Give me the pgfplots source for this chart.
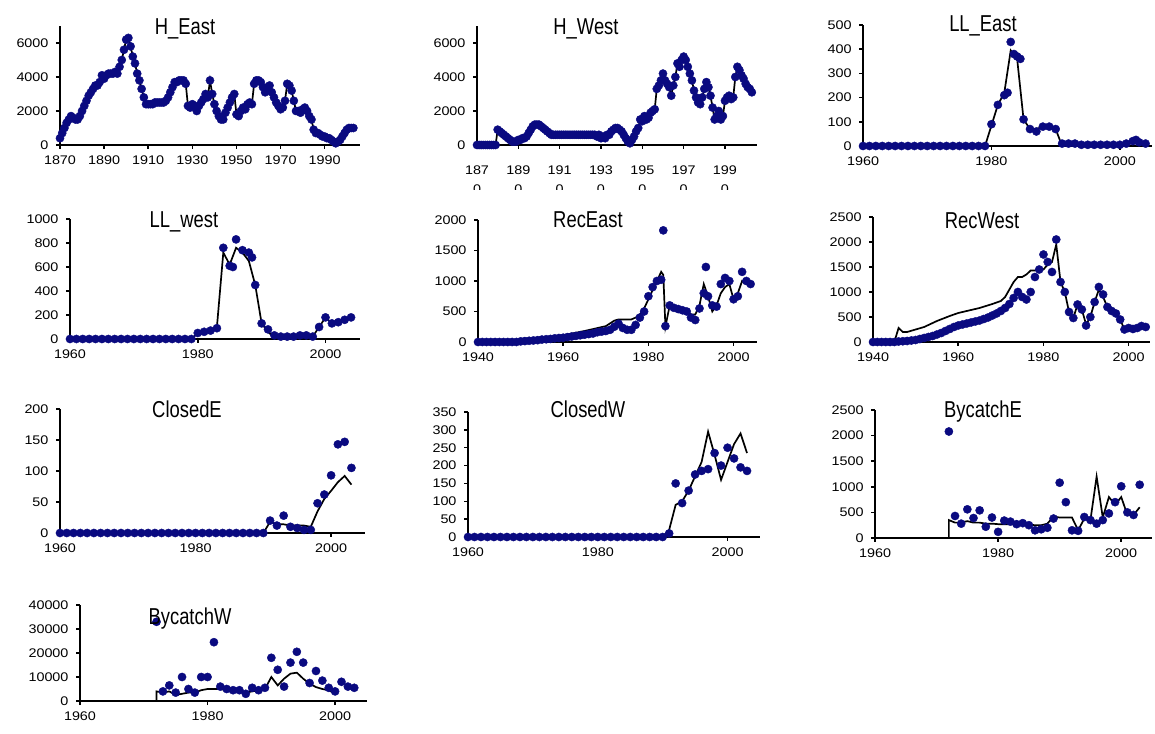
\documentclass[border=0pt]{standalone}
\usepackage{pgfplots}
\pgfplotsset{compat=1.18}
\usepackage{pgfplotstable}
\usepackage{fontspec}
\setmainfont{Liberation Sans}
\definecolor{dotblue}{RGB}{10,10,128}
\newcommand{\tickfont}{\fontsize{12.5}{14}\selectfont}
\newcommand{\ttl}[1]{\fontsize{23}{25}\selectfont\scalebox{0.8}[1]{#1}}
\pgfplotsset{
  panel/.style={
    scale only axis, anchor=south west,
    axis lines=left,
    axis line style={-, line width=2pt, black},
    every tick/.style={black, line width=1.5pt},
    major tick length=4pt, tick align=outside,
    ymin=0, clip=false,
    tick label style={font=\tickfont, xscale=1.15},
    xticklabel style={yshift=-3pt},
    yticklabel style={xshift=-3pt},
    scaled ticks=false,
    /pgf/number format/1000 sep={},
    /pgf/number format/assume math mode=true,
  },
  dots/.style={only marks, mark=*, mark size=4.1pt, color=dotblue},
  fit/.style={black, line width=1.7pt, no markers},
}
\pgfplotstableread{
x y
1870 400
1871 700
1872 1000
1873 1300
1874 1500
1875 1700
1876 1600
1877 1500
1878 1500
1879 1700
1880 2000
1881 2300
1882 2600
1883 2900
1884 3100
1885 3300
1886 3500
1887 3500
1888 3700
1889 4100
1890 3900
1891 4100
1892 4200
1893 4200
1894 4200
1895 4300
1896 4200
1897 4600
1898 5000
1899 5600
1900 6200
1901 6300
1902 5800
1903 5200
1904 4800
1905 4200
1906 3800
1907 3300
1908 2800
1909 2400
1910 2400
1911 2400
1912 2400
1913 2500
1914 2500
1915 2500
1916 2500
1917 2500
1918 2600
1919 2800
1920 3100
1921 3400
1922 3700
1923 3700
1924 3800
1925 3800
1926 3800
1927 3600
1928 2300
1929 2200
1930 2400
1931 2300
1932 2000
1933 2300
1934 2500
1935 2700
1936 3000
1937 2800
1938 3800
1939 3000
1940 2400
1941 2000
1942 1700
1943 1500
1944 1500
1945 1900
1946 2200
1947 2500
1948 2800
1949 3000
1950 1800
1951 1700
1952 2000
1953 2200
1954 2100
1955 2400
1956 2500
1957 2400
1958 3600
1959 3800
1960 3800
1961 3700
1962 3400
1963 3100
1964 3400
1965 3500
1966 3100
1967 2800
1968 2500
1969 2300
1970 2100
1971 2200
1972 2600
1973 3600
1974 3500
1975 3200
1976 2600
1977 2000
1978 2000
1979 1900
1980 2100
1981 2200
1982 2000
1983 1700
1984 1500
1985 900
1986 700
1987 700
1988 600
1989 500
1990 500
1991 400
1992 400
1993 300
1994 200
1995 100
1996 200
1997 300
1998 500
1999 700
2000 900
2001 1000
2002 1000
2003 1000
}\hEast
\pgfplotstableread{
x y
1870 0
1871 0
1872 0
1873 0
1874 0
1875 0
1876 0
1877 0
1878 0
1879 0
1880 900
1881 800
1882 700
1883 600
1884 500
1885 400
1886 300
1887 200
1888 200
1889 200
1890 300
1891 300
1892 400
1893 400
1894 500
1895 700
1896 900
1897 1100
1898 1200
1899 1200
1900 1200
1901 1100
1902 1000
1903 900
1904 800
1905 700
1906 600
1907 600
1908 600
1909 600
1910 600
1911 600
1912 600
1913 600
1914 600
1915 600
1916 600
1917 600
1918 600
1919 600
1920 600
1921 600
1922 600
1923 600
1924 600
1925 600
1926 600
1927 600
1928 500
1929 600
1930 400
1931 500
1932 400
1933 600
1934 600
1935 800
1936 900
1937 1000
1938 1000
1939 900
1940 800
1941 600
1942 400
1943 200
1944 100
1945 300
1946 500
1947 800
1948 1000
1949 1500
1950 1400
1951 1700
1952 1500
1953 1600
1954 1900
1955 2000
1956 2100
1957 3300
1958 3500
1959 3800
1960 4200
1961 3800
1962 3600
1963 3400
1964 2900
1965 3500
1966 4000
1967 4800
1968 4600
1969 5000
1970 5200
1971 5000
1972 4600
1973 4200
1974 3800
1975 3200
1976 2800
1977 2500
1978 2400
1979 2800
1980 3300
1981 3700
1982 3400
1983 2900
1984 2200
1985 1500
1986 1700
1987 2000
1988 1500
1989 1700
1990 2600
1991 2800
1992 2900
1993 2700
1994 2800
1995 4000
1996 4600
1997 4400
1998 4100
1999 3900
2000 3600
2001 3400
2002 3300
2003 3100
}\hWest
\begin{document}
\begin{tikzpicture}[x=1pt,y=1pt]
\useasboundingbox (0pt,0pt) rectangle (1155pt,733pt);
% ---------- H_East
\begin{axis}[panel, at={(60pt,588pt)}, width=300pt, height=119pt,
  xmin=1870, xmax=2006, ymax=7000,
  xtick={1870,1890,...,1990}, ytick={0,2000,4000,6000}]
\addplot[fit] table {\hEast};
\addplot[dots] table {\hEast};
\end{axis}
\node[anchor=base] at (185pt,698pt) {\ttl{H\_East}};
% ---------- H_West
\begin{axis}[panel, at={(477pt,588pt)}, width=280pt, height=119pt,
  xmin=1870, xmax=2005.5, ymax=7000,
  xtick={1870,1890,...,1990}, ytick={0,2000,4000,6000},
  xticklabels={187\\0,189\\0,191\\0,193\\0,195\\0,197\\0,199\\0},
  xticklabel style={align=center, font=\fontsize{12.5}{19}\selectfont, yshift=-10pt}]
\addplot[fit] table {\hWest};
\addplot[dots] table {\hWest};
\end{axis}
\fill[white] (465pt,525pt) rectangle (775pt,543pt);
\node[anchor=base] at (586pt,698pt) {\ttl{H\_West}};
% ---------- LL_East
\begin{axis}[panel, at={(863pt,587pt)}, width=289pt, height=121pt,
  xmin=1960, xmax=2005, ymax=500,
  xtick={1960,1980,2000}, ytick={0,100,...,500}]
\addplot[fit] coordinates {(1960,0)(1979,0)(1980,85)(1981,170)(1982,220)(1983,395)(1984,360)(1985,110)(1986,70)(1987,70)(1988,80)(1989,80)(1990,70)(1991,0)(2004,0)};
\addplot[dots] coordinates {(1960,0)(1961,0)(1962,0)(1963,0)(1964,0)(1965,0)(1966,0)(1967,0)(1968,0)(1969,0)(1970,0)(1971,0)(1972,0)(1973,0)(1974,0)(1975,0)(1976,0)(1977,0)(1978,0)(1979,0)
(1980,90)(1981,170)(1982,210)(1982.5,220)(1983,430)(1983.5,380)(1984,370)(1984.5,360)(1985,110)(1986,70)(1987,60)(1988,80)(1989,80)(1990,70)(1991,10)(1992,10)(1993,10)(1994,5)(1995,5)(1996,5)(1997,5)(1998,5)(1999,5)(2000,5)(2001,10)(2002,20)(2002.5,25)(2003,15)(2004,10)};
\end{axis}
\node[anchor=base] at (983pt,701pt) {\ttl{LL\_East}};
% ---------- LL_west
\begin{axis}[panel, at={(70pt,394pt)}, width=290pt, height=120pt,
  xmin=1960, xmax=2005.4, ymax=1000,
  xtick={1960,1980,2000}, ytick={0,200,...,1000}]
\addplot[fit] coordinates {(1960,0)(1979,0)(1980,50)(1981,60)(1982,70)(1983,100)(1984,720)(1985,620)(1986,760)(1987,720)(1988,650)(1989,450)(1990,130)(1991,60)(1992,10)(1993,15)(1998,20)(1999,100)(2000,180)(2001,130)(2002,140)(2003,160)(2004,180)};
\addplot[dots] coordinates {(1960,0)(1961,0)(1962,0)(1963,0)(1964,0)(1965,0)(1966,0)(1967,0)(1968,0)(1969,0)(1970,0)(1971,0)(1972,0)(1973,0)(1974,0)(1975,0)(1976,0)(1977,0)(1978,0)(1979,0)
(1980,50)(1981,60)(1982,70)(1983,90)(1984,760)(1985,610)(1985.5,600)(1986,830)(1987,740)(1988,720)(1988.5,680)(1989,450)(1990,130)(1991,80)(1992,30)(1993,20)(1994,20)(1995,20)(1996,30)(1997,30)(1998,20)(1999,100)(2000,180)(2001,130)(2002,140)(2003,160)(2004,180)};
\end{axis}
\node[anchor=base] at (184pt,505pt) {\ttl{LL\_west}};
% ---------- RecEast
\begin{axis}[panel, at={(478pt,391pt)}, width=279pt, height=122pt,
  xmin=1940, xmax=2005.5, ymax=2000,
  xtick={1940,1960,1980,2000}, ytick={0,500,...,2000}]
\addplot[fit] coordinates {(1940,0)(1950,10)(1955,60)(1960,110)(1965,180)(1970,260)(1972,350)(1973,370)(1976,370)(1977,400)(1978,450)(1979,550)(1980,700)(1981,850)(1982,1000)(1983,1150)(1983.5,1100)(1984,250)(1985,600)(1986,560)(1987,540)(1988,520)(1989,500)(1990,450)(1991,450)(1992,600)(1993,950)(1994,750)(1995,500)(1996,600)(1997,800)(1998,900)(1999,950)(2000,700)(2001,800)(2002,1000)(2003,950)(2004,1000)};
\addplot[dots] coordinates {(1940,0)(1941,0)(1942,0)(1943,0)(1944,0)(1945,0)(1946,0)(1947,0)(1948,0)(1949,0)(1950,10)(1951,15)(1952,20)(1953,25)(1954,30)(1955,40)(1956,45)(1957,50)(1958,60)(1959,65)(1960,70)(1961,80)(1962,90)(1963,100)(1964,110)(1965,120)(1966,130)(1967,140)(1968,160)(1969,170)(1970,180)(1971,200)(1972,250)(1973,300)(1974,230)(1975,200)(1976,200)(1977,280)(1978,400)(1979,500)(1980,750)(1981,900)(1982,1000)(1983,1020)(1983.5,1830)(1984,260)(1985,600)(1986,560)(1987,540)(1988,520)(1989,500)(1990,400)(1991,360)(1992,550)(1993,800)(1993.5,1230)(1994,750)(1995,600)(1996,580)(1997,950)(1998,1050)(1999,1000)(2000,700)(2001,750)(2002,1150)(2003,1000)(2004,950)};
\end{axis}
\node[anchor=base] at (588pt,505pt) {\ttl{RecEast}};
% ---------- RecWest
\begin{axis}[panel, at={(873pt,391pt)}, width=277pt, height=125pt,
  xmin=1940, xmax=2005, ymax=2500,
  xtick={1940,1960,1980,2000}, ytick={0,500,...,2500}]
\addplot[fit] coordinates {(1940,0)(1945,0)(1946,280)(1947,200)(1948,200)(1950,250)(1952,300)(1955,420)(1958,520)(1960,580)(1962,620)(1965,680)(1968,760)(1970,820)(1971,900)(1972,1050)(1973,1200)(1974,1300)(1975,1300)(1976,1350)(1977,1430)(1978,1430)(1979,1450)(1980,1450)(1981,1550)(1982,1600)(1983,1950)(1984,1200)(1985,1000)(1986,600)(1987,480)(1988,750)(1989,650)(1990,350)(1991,500)(1992,800)(1993,1050)(1994,900)(1995,700)(1996,620)(1997,570)(1998,450)(1999,250)(2000,280)(2001,260)(2002,280)(2003,320)(2004,300)};
\addplot[dots] coordinates {(1940,0)(1941,0)(1942,0)(1943,0)(1944,0)(1945,0)(1946,10)(1947,15)(1948,20)(1949,30)(1950,40)(1951,60)(1952,80)(1953,100)(1954,120)(1955,150)(1956,180)(1957,220)(1958,260)(1959,300)(1960,330)(1961,350)(1962,370)(1963,390)(1964,410)(1965,430)(1966,460)(1967,490)(1968,530)(1969,570)(1970,620)(1971,680)(1972,760)(1973,880)(1974,1000)(1975,900)(1976,850)(1977,1000)(1978,1300)(1979,1450)(1980,1750)(1981,1600)(1982,1400)(1983,2050)(1984,1200)(1985,1000)(1986,600)(1987,480)(1988,750)(1989,650)(1990,330)(1991,500)(1992,800)(1993,1100)(1994,950)(1995,700)(1996,620)(1997,570)(1998,450)(1999,250)(2000,280)(2001,260)(2002,280)(2003,320)(2004,300)};
\end{axis}
\node[anchor=base] at (982pt,504pt) {\ttl{RecWest}};
% ---------- ClosedE
\begin{axis}[panel, at={(60pt,200pt)}, width=305pt, height=124pt,
  xmin=1960, xmax=2005, ymax=200,
  xtick={1960,1980,2000}, ytick={0,50,...,200}]
\addplot[fit] coordinates {(1960,0)(1990,0)(1991,18)(1992,14)(1993,14)(1994,12)(1995,12)(1996,12)(1997,10)(1998,35)(1999,55)(2000,68)(2001,82)(2002,92)(2003,78)};
\addplot[dots] coordinates {(1960,0)(1961,0)(1962,0)(1963,0)(1964,0)(1965,0)(1966,0)(1967,0)(1968,0)(1969,0)(1970,0)(1971,0)(1972,0)(1973,0)(1974,0)(1975,0)(1976,0)(1977,0)(1978,0)(1979,0)(1980,0)(1981,0)(1982,0)(1983,0)(1984,0)(1985,0)(1986,0)(1987,0)(1988,0)(1989,0)(1990,0)
(1991,20)(1992,12)(1993,28)(1994,10)(1995,8)(1996,5)(1997,5)(1998,48)(1999,62)(2000,93)(2001,143)(2002,147)(2003,105)};
\end{axis}
\node[anchor=base] at (187pt,315pt) {\ttl{ClosedE}};
% ---------- ClosedW
\begin{axis}[panel, at={(468pt,196pt)}, width=292pt, height=125pt,
  xmin=1960, xmax=2005, ymax=350,
  xtick={1960,1980,2000}, ytick={0,50,...,350}]
\addplot[fit] coordinates {(1960,0)(1990,0)(1991,20)(1992,90)(1993,100)(1994,130)(1995,170)(1996,210)(1997,295)(1998,230)(1999,160)(2000,210)(2001,260)(2002,290)(2003,235)};
\addplot[dots] coordinates {(1960,0)(1961,0)(1962,0)(1963,0)(1964,0)(1965,0)(1966,0)(1967,0)(1968,0)(1969,0)(1970,0)(1971,0)(1972,0)(1973,0)(1974,0)(1975,0)(1976,0)(1977,0)(1978,0)(1979,0)(1980,0)(1981,0)(1982,0)(1983,0)(1984,0)(1985,0)(1986,0)(1987,0)(1988,0)(1989,0)(1990,0)
(1991,10)(1992,150)(1993,95)(1994,130)(1995,175)(1996,185)(1997,190)(1998,235)(1999,200)(2000,250)(2001,220)(2002,195)(2003,185)};
\end{axis}
\node[anchor=base] at (588pt,315pt) {\ttl{ClosedW}};
% ---------- BycatchE
\begin{axis}[panel, at={(875pt,195pt)}, width=277pt, height=128pt,
  xmin=1960, xmax=2005, ymax=2500,
  xtick={1960,1980,2000}, ytick={0,500,...,2500}]
\addplot[fit] coordinates {(1972,0)(1972,350)(1973,300)(1974,300)(1975,330)(1976,300)(1977,300)(1978,280)(1979,280)(1980,270)(1981,270)(1982,270)(1983,260)(1984,260)(1985,260)(1986,250)(1987,250)(1988,280)(1989,420)(1990,400)(1991,400)(1992,400)(1993,150)(1994,380)(1995,350)(1996,1200)(1997,400)(1998,800)(1999,650)(2000,800)(2001,450)(2002,450)(2003,600)};
\addplot[dots] coordinates {(1972,2080)(1973,430)(1974,280)(1975,560)(1976,390)(1977,540)(1978,220)(1979,400)(1980,120)(1981,340)(1982,320)(1983,270)(1984,290)(1985,250)(1986,150)(1987,170)(1988,200)(1989,380)(1990,1080)(1991,700)(1992,150)(1993,140)(1994,410)(1995,350)(1996,280)(1997,350)(1998,480)(1999,700)(2000,1010)(2001,500)(2002,450)(2003,1040)};
\end{axis}
\node[anchor=base] at (983pt,315pt) {\ttl{BycatchE}};
% ---------- BycatchW
\begin{axis}[panel, at={(80pt,32pt)}, width=287pt, height=96pt,
  xmin=1960, xmax=2005, ymax=40000,
  xtick={1960,1980,2000}, ytick={0,10000,...,40000}]
\addplot[fit] coordinates {(1972,0)(1972,4000)(1973,3500)(1974,4000)(1975,2500)(1976,3000)(1977,3500)(1978,3500)(1979,4500)(1980,5000)(1981,5000)(1982,5000)(1983,4500)(1984,4000)(1985,4000)(1986,3500)(1987,4000)(1988,4500)(1989,5000)(1990,10000)(1991,6500)(1992,9300)(1993,11400)(1994,11800)(1995,9300)(1996,7200)(1997,5800)(1998,5000)(1999,4500)(2000,3000)};
\addplot[dots] coordinates {(1972,33000)(1973,4000)(1974,6500)(1975,3500)(1976,10000)(1977,5000)(1978,3500)(1979,10000)(1980,10000)(1981,24500)(1982,6000)(1983,5000)(1984,4500)(1985,4500)(1986,3000)(1987,5500)(1988,4500)(1989,5500)(1990,18000)(1991,13000)(1992,6000)(1993,16000)(1994,20500)(1995,16000)(1996,7500)(1997,12500)(1998,8500)(1999,5500)(2000,4000)(2001,8000)(2002,6000)(2003,5500)};
\end{axis}
\node[anchor=base] at (190pt,108pt) {\ttl{BycatchW}};
\end{tikzpicture}
\end{document}
